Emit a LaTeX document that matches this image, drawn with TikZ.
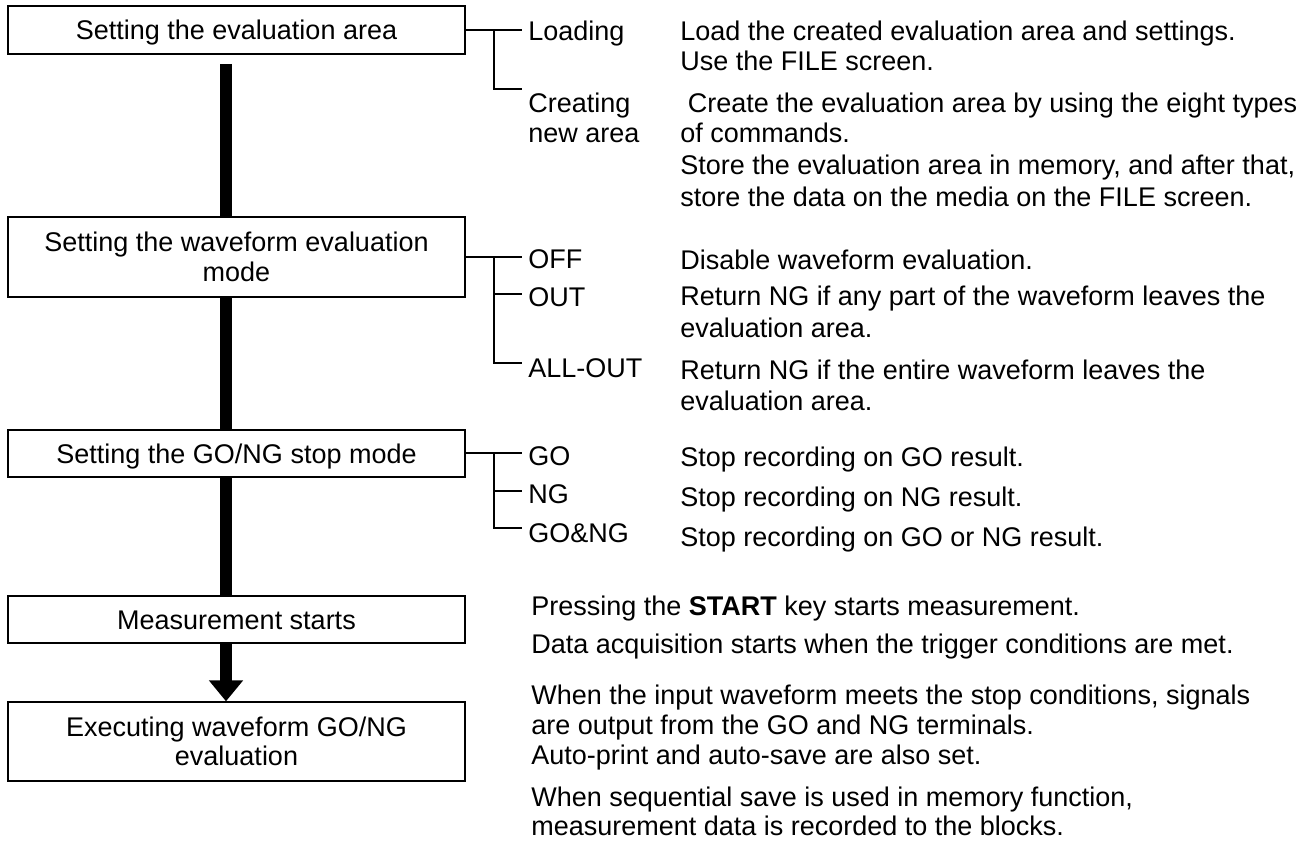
\documentclass[tikz,border=0pt]{standalone}
\usepackage{fontspec}
\setmainfont{Liberation Sans}
\usetikzlibrary{arrows.meta}
\begin{document}
\begin{tikzpicture}[x=0.75pt,y=-0.75pt,
  every node/.style={font=\fontsize{20.25pt}{22pt}\selectfont},
  box/.style={draw, line width=1pt, minimum width=342.75pt, align=center, inner sep=0pt},
  one/.style={text height=14.6pt, text depth=0pt},
  lbl/.style={anchor=west, inner sep=0pt, text height=14.6pt, text depth=0pt},
  bar/.style={line width=9pt},
  br/.style={line width=1.2pt}]
\useasboundingbox (0,0) rectangle (1314,841);
% boxes
\node[box,one,minimum height=36pt] (b1) at (236.5,30) {Setting the evaluation area};
\node[box,minimum height=60pt] (b2) at (236.5,257) {Setting the waveform evaluation\\mode};
\node[box,one,minimum height=35.25pt] (b3) at (236.5,453.5) {Setting the GO/NG stop mode};
\node[box,one,minimum height=35.25pt] (b4) at (236.5,619.5) {Measurement starts};
\node[box,minimum height=59.25pt] (b5) at (236.5,741.5) {Executing waveform GO/NG\\evaluation};
% vertical bars
\coordinate (bx) at (226,0);
\coordinate (t1) at (226,64);
\draw[bar] (t1) -- (b2.north -| bx);
\draw[bar] (b2.south -| bx) -- (b3.north -| bx);
\draw[bar] (b3.south -| bx) -- (b4.north -| bx);
\draw[bar,-{Triangle[width=24.75pt,length=15.75pt]}] (b4.south -| bx) -- (b5.north -| bx);
% labels
\node[lbl] (l1) at (528,31) {Loading};
\node[lbl] (l2) at (528,103) {Creating};
\node[lbl] (l2b) at (528,133) {new area};
\node[lbl] (l3) at (528,259) {OFF};
\node[lbl] (l4) at (528,297) {OUT};
\node[lbl] (l5) at (528,368) {ALL-OUT};
\node[lbl] (l6) at (528,456) {GO};
\node[lbl] (l7) at (528,494) {NG};
\node[lbl] (l8) at (528,533) {GO\&NG};
% brackets
\coordinate (v1) at (494,30);
\coordinate (e1) at (522,30);
\coordinate (e2) at (522,89);
\draw[br] (b1.east) -- (e1);
\draw[br] (v1) |- (e2);
\coordinate (v2) at (494,257);
\coordinate (e3) at (522,257);
\coordinate (e4) at (522,294);
\coordinate (e5) at (522,363);
\draw[br] (b2.east |- v2) -- (e3);
\draw[br] (v2) |- (e5);
\draw[br] (v2 |- e4) -- (e4);
\coordinate (v3) at (494,453);
\coordinate (e6) at (522,453);
\coordinate (e7) at (522,491);
\coordinate (e8) at (522,528);
\draw[br] (b3.east |- v3) -- (e6);
\draw[br] (v3) |- (e8);
\draw[br] (v3 |- e7) -- (e7);
% descriptions
\node[lbl] (d1) at (680,31) {Load the created evaluation area and settings.};
\node[lbl] (d2) at (680,61) {Use the FILE screen.};
\node[lbl] (d3) at (680,103) {\ Create the evaluation area by using the eight types};
\node[lbl] (d4) at (680,133) {of commands.};
\node[lbl] (d5) at (680,165) {Store the evaluation area in memory, and after that,};
\node[lbl] (d6) at (680,197) {store the data on the media on the FILE screen.};
\node[lbl] (d7) at (680,260) {Disable waveform evaluation.};
\node[lbl] (d8) at (680,296) {Return NG if any part of the waveform leaves the};
\node[lbl] (d9) at (680,328) {evaluation area.};
\node[lbl] (d10) at (680,370) {Return NG if the entire waveform leaves the};
\node[lbl] (d11) at (680,401) {evaluation area.};
\node[lbl] (d12) at (680,457) {Stop recording on GO result.};
\node[lbl] (d13) at (680,497) {Stop recording on NG result.};
\node[lbl] (d14) at (680,537) {Stop recording on GO or NG result.};
\node[lbl] (p1) at (531,606) {Pressing the \textbf{START} key starts measurement.};
\node[lbl] (p2) at (531,644) {Data acquisition starts when the trigger conditions are met.};
\node[lbl] (p3) at (531,695) {When the input waveform meets the stop conditions, signals};
\node[lbl] (p4) at (531,725) {are output from the GO and NG terminals.};
\node[lbl] (p5) at (531,755) {Auto-print and auto-save are also set.};
\node[lbl] (p6) at (531,797) {When sequential save is used in memory function,};
\node[lbl] (p7) at (531,826) {measurement data is recorded to the blocks.};
\end{tikzpicture}
\end{document}
